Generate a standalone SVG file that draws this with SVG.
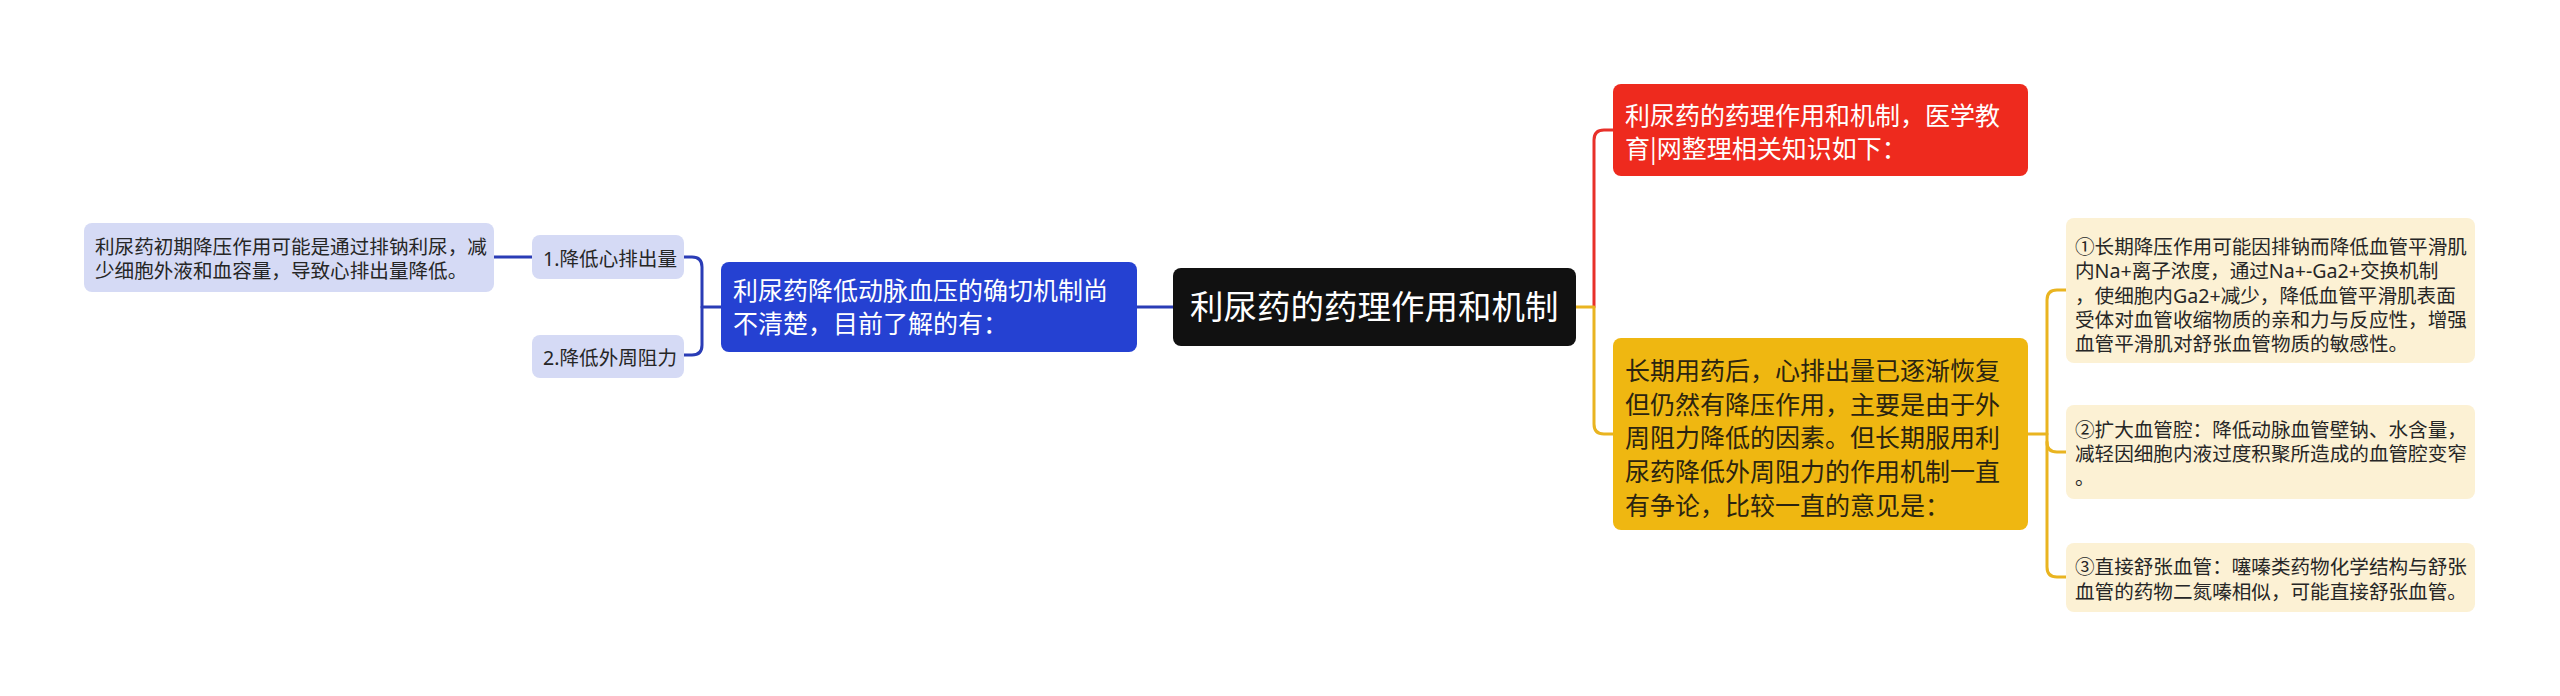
<svg xmlns="http://www.w3.org/2000/svg" width="2560" height="696" viewBox="0 0 2560 696">
<style>
text{font-family:"Noto Sans","Noto Sans CJK SC",sans-serif;}
.cjk{font-family:"Noto Sans CJK SC",sans-serif;}
.conn{fill:none;stroke-width:3;stroke-linecap:round;stroke-linejoin:round;}
.cb{stroke:#2a3cb6;}
.cr{stroke:#e8302a;}
.cy{stroke:#e9b420;}
.lav{fill:#d5daf5;}
.cream{fill:#fcf1d4;}
.sm{font-size:19.6px;fill:#262626;}
.md{font-size:25px;}
.w{fill:#ffffff;}
</style>
<rect width="2560" height="696" fill="#ffffff"/>
<g id="connectors">
<path class="conn cb" d="M494,257 H532"/>
<path class="conn cb" d="M684,257 H692 Q702,257 702,267 V345 Q702,355 692,355 H684"/>
<path class="conn cb" d="M702,307 H721"/>
<path class="conn cb" d="M1137,307 H1173"/>
<path class="conn cr" d="M1594,307 V140 Q1594,130 1604,130 H1613"/>
<path class="conn cy" d="M1576,307 H1594 V424 Q1594,434 1604,434 H1613"/>
<path class="conn cy" d="M2028,434 H2047"/>
<path class="conn cy" d="M2066,290 H2057 Q2047,290 2047,300 V567 Q2047,577 2057,577 H2066"/>
<path class="conn cy" d="M2047,442 Q2047,452 2057,452 H2066"/>
</g>
<g id="root">
<rect x="1173" y="268" width="403" height="78" rx="8" fill="#111111"/>
<text x="1190" y="319" font-size="33.5" class="w">利尿药的药理作用和机制</text>
</g>
<g id="node-blue">
<rect x="721" y="262" width="416" height="90" rx="8" fill="#2541d2"/>
<text class="md w" x="733"><tspan x="733" y="299.5">利尿药降低动脉血压的确切机制尚</tspan><tspan x="733" y="332.5">不清楚，目前了解的有：</tspan></text>
</g>
<g id="node-1">
<rect x="532" y="235" width="152" height="44" rx="8" class="lav"/>
<text class="sm" x="543" y="266">1.降低心排出量</text>
</g>
<g id="node-2">
<rect x="532" y="335" width="152" height="43" rx="8" class="lav"/>
<text class="sm" x="543" y="364.5">2.降低外周阻力</text>
</g>
<g id="leaf-1">
<rect x="84" y="223" width="410" height="69" rx="8" class="lav"/>
<text class="sm"><tspan x="95" y="254">利尿药初期降压作用可能是通过排钠利尿，减</tspan><tspan x="95" y="278">少细胞外液和血容量，导致心排出量降低。</tspan></text>
</g>
<g id="node-red">
<rect x="1613" y="84" width="415" height="92" rx="8" fill="#ee2a1e"/>
<text class="md w cjk"><tspan x="1625" y="124.5">利尿药的药理作用和机制，医学教</tspan><tspan x="1625" y="157.5">育|网整理相关知识如下：</tspan></text>
</g>
<g id="node-yellow">
<rect x="1613" y="338" width="415" height="192" rx="8" fill="#efb711"/>
<text class="md" fill="#2b2410"><tspan x="1625" y="380">长期用药后，心排出量已逐渐恢复</tspan><tspan x="1625" y="414">但仍然有降压作用，主要是由于外</tspan><tspan x="1625" y="447">周阻力降低的因素。但长期服用利</tspan><tspan x="1625" y="481">尿药降低外周阻力的作用机制一直</tspan><tspan x="1625" y="515">有争论，比较一直的意见是：</tspan></text>
</g>
<g id="leaf-y1">
<rect x="2066" y="218" width="409" height="145" rx="8" class="cream"/>
<text class="sm" fill="#2e2816"><tspan x="2075" y="254">①长期降压作用可能因排钠而降低血管平滑肌</tspan><tspan x="2075" y="278">内Na+离子浓度，通过Na+-Ga2+交换机制</tspan><tspan x="2075" y="302.5">，使细胞内Ga2+减少，降低血管平滑肌表面</tspan><tspan x="2075" y="326.5">受体对血管收缩物质的亲和力与反应性，增强</tspan><tspan x="2075" y="350.5">血管平滑肌对舒张血管物质的敏感性。</tspan></text>
</g>
<g id="leaf-y2">
<rect x="2066" y="405" width="409" height="94" rx="8" class="cream"/>
<text class="sm"><tspan x="2075" y="437">②扩大血管腔：降低动脉血管壁钠、水含量，</tspan><tspan x="2075" y="461">减轻因细胞内液过度积聚所造成的血管腔变窄</tspan><tspan x="2075" y="485">。</tspan></text>
</g>
<g id="leaf-y3">
<rect x="2066" y="543" width="409" height="69" rx="8" class="cream"/>
<text class="sm"><tspan x="2075" y="573.5">③直接舒张血管：噻嗪类药物化学结构与舒张</tspan><tspan x="2075" y="598.5">血管的药物二氮嗪相似，可能直接舒张血管。</tspan></text>
</g>
</svg>
